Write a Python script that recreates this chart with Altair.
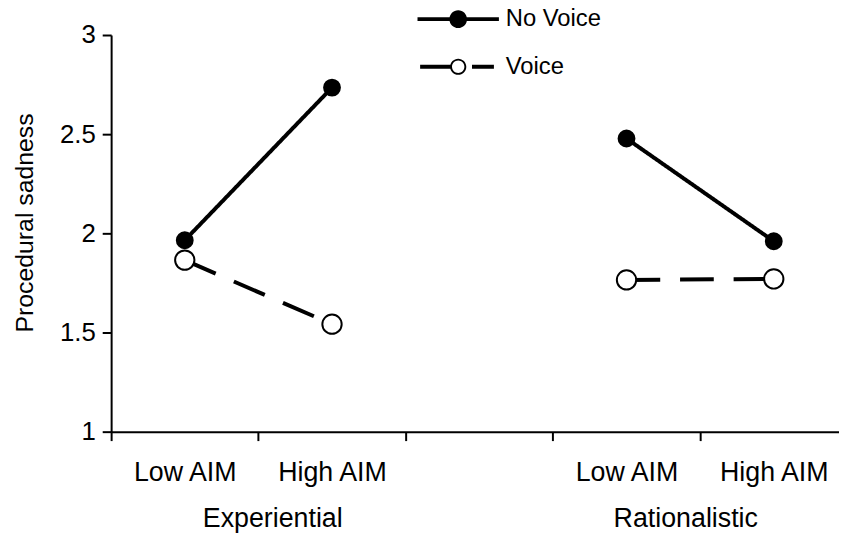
import altair as alt
import pandas as pd

# ---- data ----
groups = ["Experiential", "Rationalistic"]
aim_levels = ["Low AIM", "High AIM"]
series = ["No Voice", "Voice"]
no_voice = [1.965, 2.735, 2.478, 1.96]
voice = [1.865, 1.542, 1.765, 1.77]
slot_positions = [0.5, 1.5, 3.5, 4.5]      # category slots on the x axis
group_positions = [1, 4]                    # centre of each group label
boundary_ticks = [0, 2, 3]                  # extra tick marks without labels
y_ticks = [1, 1.5, 2, 2.5, 3]

rows = []
for s, vals in zip(series, [no_voice, voice]):
    for i, v in enumerate(vals):
        rows.append({"series": s, "group": groups[i // 2], "aim": aim_levels[i % 2],
                     "pos": slot_positions[i], "value": v})
df = pd.DataFrame(rows)

FONT = "Liberation Sans"

# label expression for the x axis
label_pairs = [(slot_positions[i], aim_levels[i % 2]) for i in range(4)] + \
              [(group_positions[i], groups[i]) for i in range(2)]
label_expr = " : ".join(f"datum.value === {k} ? '{v}'" for k, v in label_pairs) + " : ''"
x_values = sorted(set(slot_positions + group_positions + boundary_ticks))

x_axis = alt.Axis(
    values=x_values,
    labelExpr=label_expr,
    tickOpacity={"condition": {"test": "datum.value % 1 === 0", "value": 1}, "value": 0},
    labelPadding={"condition": {"test": "datum.value % 1 === 0", "value": 66}, "value": 19},
    labelOffset={"condition": [{"test": "datum.value === 1", "value": 14},
                               {"test": "datum.value === 4", "value": -15}], "value": 0},
    labelFontSize=27,
    labelFlush=False,
    labelOverlap=False,
    labelBaseline="top",
    tickSize=9,
    grid=False,
)

y_axis = alt.Axis(
    values=y_ticks,
    format="~g",
    labelFontSize=26,
    labelPadding=7,
    tickSize=9,
    grid=False,
    titleFontSize=25,
    titleFontWeight="normal",
    titleX=-79,
    titleY=189,
    titleBaseline="alphabetic",
)

x = alt.X("pos:Q", scale=alt.Scale(domain=[0, 4.943], nice=False, zero=False), axis=x_axis, title=None)
y = alt.Y("value:Q", scale=alt.Scale(domain=[1, 3], nice=False, zero=False), axis=y_axis,
          title="Procedural sadness")

# styling channels use data-driven domains (sorted: "No Voice", "Voice")
lines = alt.Chart(df).mark_line(color="black", strokeWidth=4, strokeCap="butt").encode(
    x=x, y=y,
    detail="group:N",
    strokeDash=alt.StrokeDash("series:N", scale=alt.Scale(range=[[1, 0], [34, 20]]), legend=None),
)

points = alt.Chart(df).mark_point(filled=True, stroke="black", strokeWidth=2, opacity=1).encode(
    x=x, y=y,
    fill=alt.Fill("series:N", scale=alt.Scale(range=["black", "white"]), legend=None),
    size=alt.Size("series:N", scale=alt.Scale(range=[256, 380]), legend=None),
)

# legend glyphs (filled outlines, unit square -1..1 scaled by sqrt(size)/2)
nv_path = ("M-1.71,-0.08H1.71V0.08H-1.71Z"
           "M0.37,0A0.37,0.37 0 1,1 -0.37,0A0.37,0.37 0 1,1 0.37,0Z")
v_path = ("M-1.6,-0.08H-0.3V0.08H-1.6Z"
          "M0.58,-0.08H1.5V0.08H0.58Z"
          "M0.34,0A0.34,0.34 0 1,1 -0.34,0A0.34,0.34 0 1,1 0.34,0Z"
          "M0.26,0A0.26,0.26 0 1,0 -0.26,0A0.26,0.26 0 1,0 0.26,0Z")

legend = alt.Legend(
    title=None, orient="none", legendX=326, legendY=-40, direction="vertical",
    symbolSize=2304, labelFontSize=24, labelOffset=24, rowPadding=12, labelFont=FONT,
    labelColor="black", symbolFillColor="black", symbolStrokeWidth=0, symbolOpacity=1,
)

legend_layer = alt.Chart(df).mark_point(
    filled=True, color="black", strokeWidth=0, size=2304, opacity=0
).encode(
    x=x, y=y,
    shape=alt.Shape("series:N", scale=alt.Scale(domain=series, range=[nv_path, v_path]), legend=legend),
)

chart = alt.layer(lines, points, legend_layer).properties(
    width=734, height=400,
    padding={"left": 104, "top": 25, "right": 0, "bottom": 106},
    autosize="none",
    background="white",
).configure(font=FONT).configure_view(stroke=None).configure_axis(
    domainColor="black", domainWidth=2, tickColor="black", tickWidth=2,
    labelColor="black", titleColor="black", labelFont=FONT, titleFont=FONT,
)

chart.save("out.html", embed_options={"renderer": "svg", "actions": False})
